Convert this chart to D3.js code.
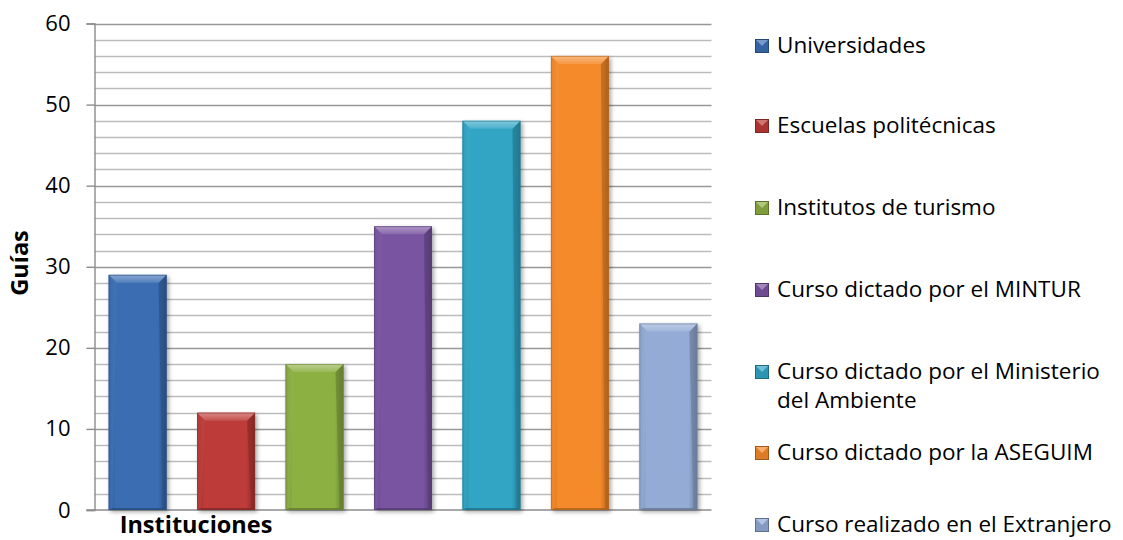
<!DOCTYPE html>
<html>
<head>
<meta charset="utf-8">
<script src="https://cdn.jsdelivr.net/npm/d3@7/dist/d3.min.js"></script>
<style>
  html, body { margin: 0; padding: 0; background: #fff; }
  svg { display: block; font-family: "Open Sans", Lato, sans-serif; }
</style>
</head>
<body>
<svg id="chart" width="1123" height="540"></svg>
<script>
// ---- data ----
const series = [
  "Universidades",
  "Escuelas politécnicas",
  "Institutos de turismo",
  "Curso dictado por el MINTUR",
  "Curso dictado por el Ministerio del Ambiente",
  "Curso dictado por la ASEGUIM",
  "Curso realizado en el Extranjero"
];
const values = [29, 12, 18, 35, 48, 56, 23];
const colors = ["#3b6db3", "#bd3a37", "#8cb043", "#7954a1", "#31a5c5", "#f58a2a", "#93abd5"];
const yTicks = [0, 10, 20, 30, 40, 50, 60];
const minorTicks = d3.range(0, 61, 2);
const xTitle = "Instituciones";
const yTitle = "Guías";

// ---- layout ----
const FONT = "'Open Sans', Lato, sans-serif";
const svg = d3.select("#chart");
const plot = { left: 94.5, right: 711.5, top: 23.5, bottom: 510 };

const x = d3.scaleBand().domain(series).range([plot.left, plot.right])
  .paddingInner(0.345).paddingOuter(0.16);
const y = d3.scaleLinear().domain([0, 60]).range([plot.bottom, plot.top]);

const defs = svg.append("defs");
const shadow = defs.append("filter").attr("id", "shadow")
  .attr("x", "-20%").attr("y", "-10%").attr("width", "150%").attr("height", "130%");
shadow.append("feGaussianBlur").attr("in", "SourceAlpha").attr("stdDeviation", 2.2);
shadow.append("feOffset").attr("dx", 2).attr("dy", 2).attr("result", "ob");
shadow.append("feComponentTransfer").append("feFuncA").attr("type", "linear").attr("slope", 0.35);
const merge = shadow.append("feMerge");
merge.append("feMergeNode");
merge.append("feMergeNode").attr("in", "SourceGraphic");

function shade(c, k) { return d3.interpolateRgb(c, "#000")(k); }
function tint(c, k) { return d3.interpolateRgb(c, "#fff")(k); }

colors.forEach((c, i) => {
  const g = defs.append("linearGradient").attr("id", "body" + i)
    .attr("x1", 0).attr("x2", 1).attr("y1", 0).attr("y2", 0);
  g.append("stop").attr("offset", 0).attr("stop-color", shade(c, 0.18));
  g.append("stop").attr("offset", 0.12).attr("stop-color", c);
  g.append("stop").attr("offset", 0.85).attr("stop-color", c);
  g.append("stop").attr("offset", 1).attr("stop-color", shade(c, 0.28));
  const t = defs.append("linearGradient").attr("id", "top" + i)
    .attr("x1", 0).attr("x2", 0).attr("y1", 0).attr("y2", 1);
  t.append("stop").attr("offset", 0).attr("stop-color", tint(c, 0.4));
  t.append("stop").attr("offset", 1).attr("stop-color", tint(c, 0.12));
});

// gridlines
svg.append("g").selectAll("line").data(minorTicks.filter(v => v % 10 !== 0))
  .join("line")
  .attr("x1", plot.left).attr("x2", plot.right)
  .attr("y1", d => Math.round(y(d)) + 0.5).attr("y2", d => Math.round(y(d)) + 0.5)
  .attr("stroke", "#bcbcbc").attr("stroke-width", 1.4);
svg.append("g").selectAll("line").data(yTicks.filter(v => v > 0))
  .join("line")
  .attr("x1", plot.left).attr("x2", plot.right)
  .attr("y1", d => Math.round(y(d)) + 0.5).attr("y2", d => Math.round(y(d)) + 0.5)
  .attr("stroke", "#989898").attr("stroke-width", 1.4);

// y axis
const yAxis = d3.axisLeft(y).tickValues(yTicks).tickSize(8).tickPadding(16);
const ya = svg.append("g").attr("transform", `translate(${plot.left},0)`).call(yAxis);
ya.attr("font-family", FONT).attr("font-size", 22);
ya.select(".domain").attr("stroke", "#8c8c8c").attr("stroke-width", 1.4);
ya.selectAll(".tick line").attr("stroke", "#8c8c8c").attr("stroke-width", 1.4);
ya.selectAll(".tick text").attr("fill", "#000");

// x axis baseline
svg.append("line").attr("x1", plot.left - 8).attr("x2", plot.right)
  .attr("y1", y(0)).attr("y2", y(0))
  .attr("stroke", "#8c8c8c").attr("stroke-width", 1.4);

// bars
const b = 8, s = 4;
const bars = svg.append("g").selectAll("g").data(series).join("g")
  .attr("filter", "url(#shadow)");
bars.each(function (name, i) {
  const g = d3.select(this);
  const x0 = x(name), w = x.bandwidth(), y0 = y(values[i]), y1 = y(0), h = y1 - y0;
  const c = colors[i];
  g.append("rect").attr("x", x0).attr("y", y0).attr("width", w).attr("height", h)
    .attr("fill", `url(#body${i})`);
  g.append("polygon").attr("points", [[x0, y0], [x0 + b, y0 + b], [x0 + s, y1 - 2], [x0, y1]].join(" "))
    .attr("fill", tint(c, 0.05)).attr("opacity", 0.6);
  g.append("polygon").attr("points", [[x0 + w, y0], [x0 + w - b, y0 + b], [x0 + w - s, y1 - 2], [x0 + w, y1]].join(" "))
    .attr("fill", shade(c, 0.3)).attr("opacity", 0.55);
  g.append("polygon").attr("points", [[x0, y1], [x0 + s, y1 - 2], [x0 + w - s, y1 - 2], [x0 + w, y1]].join(" "))
    .attr("fill", shade(c, 0.35)).attr("opacity", 0.7);
  g.append("polygon").attr("points", [[x0, y0], [x0 + w, y0], [x0 + w - b, y0 + b], [x0 + b, y0 + b]].join(" "))
    .attr("fill", `url(#top${i})`);
  g.append("rect").attr("x", x0 + 0.5).attr("y", y0 + 0.5).attr("width", w - 1).attr("height", h - 1)
    .attr("fill", "none").attr("stroke", shade(c, 0.25)).attr("stroke-width", 1).attr("opacity", 0.6);
});

// axis titles
svg.append("text").attr("x", 196).attr("y", 533).attr("text-anchor", "middle")
  .attr("font-family", FONT).attr("font-size", 23.5).attr("font-weight", "bold").text(xTitle);
svg.append("text").attr("transform", "translate(28,263) rotate(-90)").attr("text-anchor", "middle")
  .attr("font-family", FONT).attr("font-size", 23.5).attr("font-weight", "bold").text(yTitle);

// legend
const legendBase = [53, 133, 215, 297, 379, 460, 532];
const leg = svg.append("g").attr("font-family", FONT).attr("font-size", 22.5);
series.forEach((name, i) => {
  const by = legendBase[i];
  const c = colors[i];
  const mx = 755, my = by - 14, ms = 14;
  leg.append("rect").attr("x", mx).attr("y", my).attr("width", ms).attr("height", ms)
    .attr("fill", shade(c, 0.1));
  leg.append("polygon").attr("points", [[mx, my], [mx + ms, my], [mx + ms / 2, my + ms / 2]].join(" "))
    .attr("fill", tint(c, 0.3));
  leg.append("rect").attr("x", mx + 0.5).attr("y", my + 0.5).attr("width", ms - 1).attr("height", ms - 1)
    .attr("fill", "none").attr("stroke", shade(c, 0.35)).attr("stroke-width", 1);
  const t = leg.append("text").attr("x", 777).attr("y", by).attr("fill", "#000");
  const words = name.split(" ");
  let line = [], lineNo = 0;
  let ts = t.append("tspan").attr("x", 777).attr("y", by);
  words.forEach(wd => {
    line.push(wd);
    ts.text(line.join(" "));
    if (ts.node().getComputedTextLength() > 336 && line.length > 1) {
      line.pop();
      ts.text(line.join(" "));
      line = [wd];
      lineNo++;
      ts = t.append("tspan").attr("x", 777).attr("y", by + lineNo * 29).text(wd);
    }
  });
});
</script>
</body>
</html>
